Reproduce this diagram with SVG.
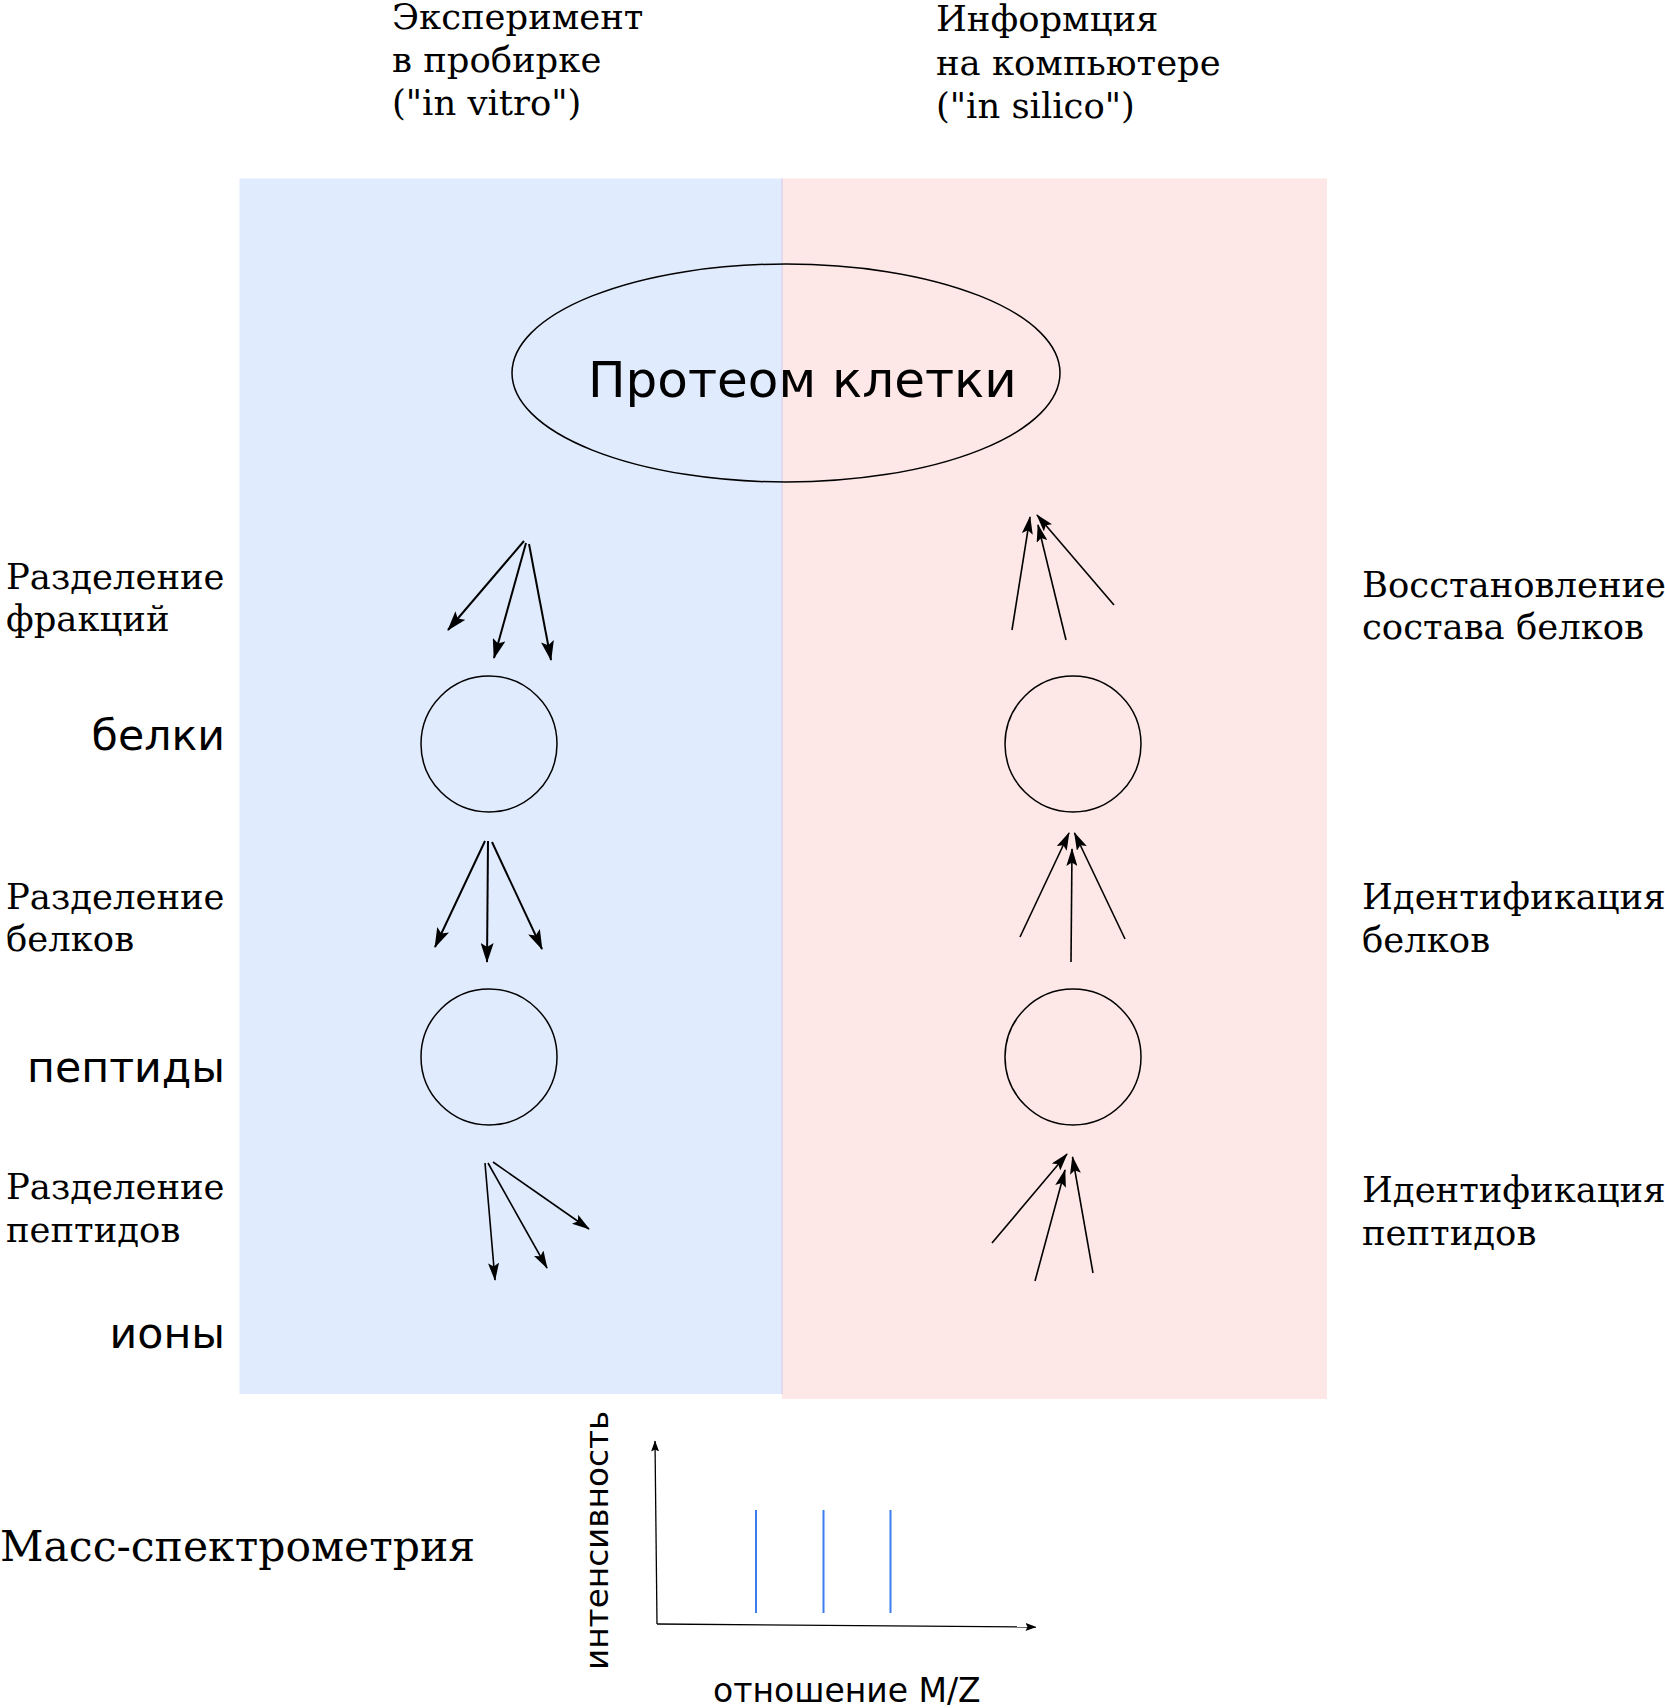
<svg xmlns="http://www.w3.org/2000/svg" width="1665" height="1708" viewBox="0 0 1665 1708">
<defs>
<style>
.serif{font-family:"DejaVu Serif","Liberation Serif",serif;font-size:35.4px;fill:#000}
.big{font-size:42.5px}
.sans{font-family:"DejaVu Sans","Liberation Sans",sans-serif;fill:#000}
.node{fill:none;stroke:#000;stroke-width:1.5}
.arr{stroke:#000;stroke-width:2;fill:none;marker-end:url(#head)}
.arr2{stroke:#000;stroke-width:1.6;fill:none;marker-end:url(#head2)}
.axis{stroke:#000;stroke-width:1.3;fill:none;marker-end:url(#small)}
.peak{stroke:#3b7ded;stroke-width:2}
</style>
<marker id="head" viewBox="0 0 20 13" refX="19" refY="6.5" markerWidth="20" markerHeight="13" markerUnits="userSpaceOnUse" orient="auto">
<path d="M0,0 L20,6.5 L0,13 L4,6.5 Z" fill="#000"/>
</marker>
<marker id="head2" viewBox="0 0 18 11" refX="17" refY="5.5" markerWidth="18" markerHeight="11" markerUnits="userSpaceOnUse" orient="auto">
<path d="M0,0 L18,5.5 L0,11 L3.5,5.5 Z" fill="#000"/>
</marker>
<marker id="small" viewBox="0 0 11 8" refX="10.5" refY="4" markerWidth="11" markerHeight="8" markerUnits="userSpaceOnUse" orient="auto">
<path d="M0,0 L11,4 L0,8 L2,4 Z" fill="#000"/>
</marker>
</defs>
<rect width="1665" height="1708" fill="#fff"/>
<g id="panels">
<rect x="239.5" y="178.5" width="542.5" height="1215.5" fill="#e0ebfd"/>
<rect x="782" y="178.5" width="545" height="1220.5" fill="#fde7e7"/>
<line x1="782" y1="178.5" x2="782" y2="1394" stroke="#dcd5ee" stroke-width="1.5"/>
</g>
<g id="headers">
<text class="serif" x="392" y="28.5">Эксперимент</text>
<text class="serif" x="392" y="71.5">в пробирке</text>
<text class="serif" x="392" y="115">("in vitro")</text>
<text class="serif" x="936" y="31">Информция</text>
<text class="serif" x="936" y="74.5">на компьютере</text>
<text class="serif" x="936" y="118">("in silico")</text>
</g>
<g id="proteome">
<ellipse class="node" cx="786" cy="373" rx="274" ry="109"/>
<text class="sans" x="588" y="397" font-size="50">Протеом клетки</text>
</g>
<g id="proteins-left"><circle class="node" cx="489" cy="744" r="68"/></g>
<g id="peptides-left"><circle class="node" cx="489" cy="1057" r="68"/></g>
<g id="proteins-right"><circle class="node" cx="1073" cy="744" r="68"/></g>
<g id="peptides-right"><circle class="node" cx="1073" cy="1057" r="68"/></g>
<g id="left-labels">
<text class="serif" x="6" y="588.5">Разделение</text>
<text class="serif" x="6" y="631">фракций</text>
<text class="serif" x="6" y="908.5">Разделение</text>
<text class="serif" x="6" y="951">белков</text>
<text class="serif" x="6" y="1199">Разделение</text>
<text class="serif" x="6" y="1241.5">пептидов</text>
<text class="sans" x="225" y="750" font-size="42.7" text-anchor="end">белки</text>
<text class="sans" x="225" y="1082" font-size="42.7" text-anchor="end">пептиды</text>
<text class="sans" x="225" y="1348" font-size="42.7" text-anchor="end">ионы</text>
</g>
<g id="right-labels">
<text class="serif" x="1362" y="596.5">Восстановление</text>
<text class="serif" x="1362" y="639">состава белков</text>
<text class="serif" x="1362" y="909">Идентификация</text>
<text class="serif" x="1362" y="951.5">белков</text>
<text class="serif" x="1362" y="1202">Идентификация</text>
<text class="serif" x="1362" y="1244.5">пептидов</text>
</g>
<g id="connectors">
<line class="arr" x1="524" y1="541" x2="448" y2="630"/>
<line class="arr" x1="526" y1="543" x2="494" y2="658"/>
<line class="arr" x1="529" y1="544" x2="551" y2="660"/>
<line class="arr" x1="485" y1="841" x2="435" y2="947"/>
<line class="arr" x1="488" y1="841" x2="487" y2="962"/>
<line class="arr" x1="492" y1="842" x2="542" y2="949"/>
<line class="arr2" x1="485" y1="1163" x2="495" y2="1280"/>
<line class="arr2" x1="488" y1="1163" x2="547" y2="1268"/>
<line class="arr2" x1="493" y1="1162" x2="589" y2="1229"/>
<line class="arr2" x1="1012" y1="630" x2="1030" y2="517"/>
<line class="arr2" x1="1066" y1="640" x2="1038" y2="525"/>
<line class="arr2" x1="1114" y1="605" x2="1037" y2="515"/>
<line class="arr2" x1="1020" y1="937" x2="1069" y2="833"/>
<line class="arr2" x1="1071" y1="962" x2="1072" y2="849"/>
<line class="arr2" x1="1125" y1="939" x2="1074.5" y2="833"/>
<line class="arr2" x1="992" y1="1243" x2="1067" y2="1154"/>
<line class="arr2" x1="1035" y1="1281" x2="1065" y2="1170"/>
<line class="arr2" x1="1093" y1="1273" x2="1072.5" y2="1157"/>
</g>
<g id="spectrum">
<text class="serif big" x="0" y="1560.5">Масс-спектрометрия</text>
<line class="axis" x1="657" y1="1624" x2="655" y2="1441"/>
<line class="axis" x1="657" y1="1624" x2="1036" y2="1627"/>
<line class="peak" x1="756" y1="1510" x2="756" y2="1613"/>
<line class="peak" x1="823.5" y1="1510" x2="823.5" y2="1613"/>
<line class="peak" x1="890.5" y1="1510" x2="890.5" y2="1613"/>
<text class="sans" font-size="32.7" transform="translate(608,1670) rotate(-90)">интенсивность</text>
<text class="sans" x="713" y="1701.5" font-size="33">отношение M/Z</text>
</g>
</svg>
